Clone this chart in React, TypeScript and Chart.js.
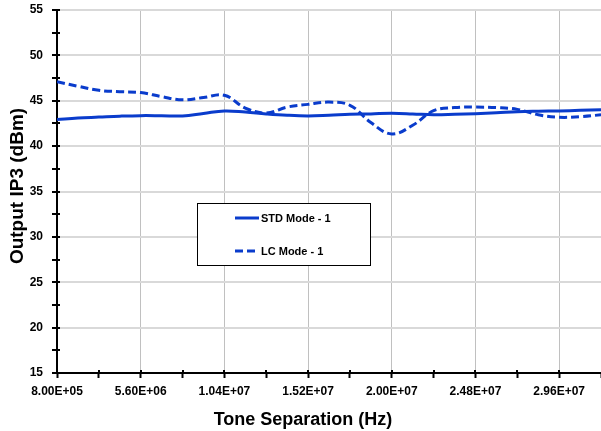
import React, { useEffect, useRef } from "react";
import { Chart, registerables } from "chart.js";

Chart.register(...registerables);

// ---- Data ----
const freqHz = [
  800000, 2000000, 3200000, 4400000, 5600000, 6800000, 8000000, 9200000, 10400000,
  11600000, 12800000, 14000000, 15200000, 16400000, 17600000, 18800000, 20000000,
  21200000, 22400000, 23600000, 24800000, 26000000, 27200000, 28400000, 29600000,
  30800000, 32000000,
];
const stdMode1 = [
  42.92, 43.1, 43.2, 43.3, 43.36, 43.35, 43.33, 43.6, 43.88, 43.75, 43.55, 43.4, 43.33,
  43.4, 43.5, 43.55, 43.62, 43.55, 43.45, 43.5, 43.58, 43.68, 43.8, 43.85, 43.88, 43.94, 44.0,
];
const lcMode1 = [
  47.1, 46.6, 46.15, 46.0, 45.9, 45.45, 45.1, 45.35, 45.6, 44.2, 43.65, 44.3, 44.6,
  44.85, 44.5, 42.6, 41.34, 42.3, 43.9, 44.25, 44.3, 44.25, 44.05, 43.45, 43.18, 43.25, 43.45,
];
const seriesLabels = ["STD Mode - 1", "LC Mode - 1"];
const xMajorTicks = [800000, 5600000, 10400000, 15200000, 20000000, 24800000, 29600000];
const xMinorTicks = [3200000, 8000000, 12800000, 17600000, 22400000, 27200000, 32000000];
const yMajorTicks = [15, 20, 25, 30, 35, 40, 45, 50, 55];
const yMinorTicks = [17.5, 22.5, 27.5, 32.5, 37.5, 42.5, 47.5, 52.5];
const xTitle = "Tone Separation (Hz)";
const yTitle = "Output IP3 (dBm)";

const X_MIN = 800000;
const X_MAX = 32000000;
const Y_MIN = 15;
const Y_MAX = 55;

const LINE_COLOR = "#0a3ccc";
const FONT = "'Liberation Sans', Arial, sans-serif";

function fmtSci(v: number): string {
  const exp = Math.floor(Math.log10(v) + 1e-9);
  const mant = v / Math.pow(10, exp);
  return `${mant.toFixed(2)}E+${String(exp).padStart(2, "0")}`;
}

const xMajorSet = new Set(xMajorTicks);
const yMajorSet = new Set(yMajorTicks);

const decorPlugin = {
  id: "decor",
  afterDraw(chart: any) {
    const { ctx, chartArea } = chart;
    const xs = chart.scales.x;
    const ys = chart.scales.y;
    ctx.save();
    // inner parts of tick marks (crossing the axes)
    ctx.strokeStyle = "#000";
    ctx.lineWidth = 2;
    [...xMajorTicks, ...xMinorTicks].forEach((v) => {
      const px = Math.round(xs.getPixelForValue(v));
      if (px > chartArea.right - 1) return;
      ctx.beginPath();
      ctx.moveTo(px, chartArea.bottom);
      ctx.lineTo(px, chartArea.bottom - 3);
      ctx.stroke();
    });
    [...yMajorTicks, ...yMinorTicks].forEach((v) => {
      const py = Math.round(ys.getPixelForValue(v));
      ctx.beginPath();
      ctx.moveTo(chartArea.left, py);
      ctx.lineTo(chartArea.left + 3, py);
      ctx.stroke();
    });

    // legend box
    const bx = chartArea.left + 140;
    const by = chartArea.top + 193;
    const bw = 173;
    const bh = 62;
    ctx.fillStyle = "#fff";
    ctx.fillRect(bx, by, bw, bh);
    ctx.strokeStyle = "#000";
    ctx.lineWidth = 1;
    ctx.strokeRect(bx + 0.5, by + 0.5, bw, bh);
    const rows = [by + 15, by + 48];
    chart.data.datasets.forEach((ds: any, i: number) => {
      const yy = rows[i];
      ctx.strokeStyle = ds.borderColor;
      ctx.lineWidth = 3;
      ctx.setLineDash(ds.borderDash || []);
      ctx.beginPath();
      ctx.moveTo(bx + 38, yy);
      ctx.lineTo(bx + 62, yy);
      ctx.stroke();
      ctx.setLineDash([]);
      ctx.fillStyle = "#000";
      ctx.font = `bold 11px ${FONT}`;
      ctx.textAlign = "left";
      ctx.textBaseline = "middle";
      ctx.fillText(ds.label, bx + 64, yy + 0.5);
    });

    // axis titles
    ctx.fillStyle = "#000";
    ctx.font = `bold 18px ${FONT}`;
    ctx.textAlign = "center";
    ctx.textBaseline = "alphabetic";
    ctx.fillText(xTitle, chartArea.left + 246, chart.height - 6);

    ctx.save();
    ctx.translate(17.5, chartArea.top + 176);
    ctx.rotate(-Math.PI / 2);
    ctx.font = `bold 19px ${FONT}`;
    ctx.textAlign = "center";
    ctx.textBaseline = "middle";
    ctx.fillText(yTitle, 0, 0);
    ctx.restore();

    ctx.restore();
  },
};

export default function App() {
  const canvasRef = useRef<HTMLCanvasElement | null>(null);

  useEffect(() => {
    document.body.style.margin = "0";
    const canvas = canvasRef.current;
    if (!canvas) return;
    const allX = [...xMajorTicks, ...xMinorTicks].sort((a, b) => a - b);
    const allY = [...yMajorTicks, ...yMinorTicks].sort((a, b) => a - b);

    const chart = new Chart(canvas, {
      type: "line",
      data: {
        datasets: [
          {
            label: seriesLabels[0],
            data: freqHz.map((x, i) => ({ x, y: stdMode1[i] })),
            borderColor: LINE_COLOR,
            borderWidth: 3,
            pointRadius: 0,
            tension: 0.4,
            fill: false,
          },
          {
            label: seriesLabels[1],
            data: freqHz.map((x, i) => ({ x, y: lcMode1[i] })),
            borderColor: LINE_COLOR,
            borderWidth: 3,
            borderDash: [8, 4],
            pointRadius: 0,
            tension: 0.4,
            fill: false,
          },
        ],
      },
      options: {
        animation: false,
        responsive: false,
        devicePixelRatio: 1,
        layout: { padding: { top: 10, left: 0, right: 0, bottom: 0 } },
        plugins: {
          legend: { display: false },
          tooltip: { enabled: false },
        },
        scales: {
          x: {
            type: "linear",
            min: X_MIN,
            max: X_MAX,
            afterFit: (scale: any) => {
              scale.height = 58;
              scale.paddingLeft = 0;
              scale.paddingRight = 0;
            },
            afterBuildTicks: (scale: any) => {
              scale.ticks = allX.map((v) => ({ value: v }));
            },
            ticks: {
              autoSkip: false,
              maxRotation: 0,
              minRotation: 0,
              padding: 6,
              color: "#000",
              font: { family: FONT, size: 12, weight: "bold" },
              callback: (value: any) => (xMajorSet.has(value) ? fmtSci(value) : ""),
            },
            grid: {
              color: (ctx: any) => {
                const v = ctx.tick && ctx.tick.value;
                return xMajorSet.has(v) && v !== X_MIN ? "#c0c0c0" : "rgba(0,0,0,0)";
              },
              lineWidth: 1,
              drawTicks: true,
              tickLength: 5,
              tickColor: "#000",
              tickWidth: 2,
            },
            border: { display: true, color: "#000", width: 2 },
          },
          y: {
            type: "linear",
            min: Y_MIN,
            max: Y_MAX,
            afterFit: (scale: any) => {
              scale.width = 57;
              scale.paddingTop = 0;
              scale.paddingBottom = 0;
            },
            afterBuildTicks: (scale: any) => {
              scale.ticks = allY.map((v) => ({ value: v }));
            },
            ticks: {
              autoSkip: false,
              padding: 9,
              color: "#000",
              font: { family: FONT, size: 12, weight: "bold" },
              callback: (value: any) => (yMajorSet.has(value) ? String(value) : ""),
            },
            grid: {
              color: (ctx: any) => {
                const v = ctx.tick && ctx.tick.value;
                return yMajorSet.has(v) && v !== Y_MIN ? "#d9d9d9" : "rgba(0,0,0,0)";
              },
              lineWidth: 2,
              drawTicks: true,
              tickLength: 5,
              tickColor: "#000",
              tickWidth: 2,
            },
            border: { display: true, color: "#000", width: 2 },
          },
        },
      },
      plugins: [decorPlugin],
    } as any);

    return () => {
      chart.destroy();
    };
  }, []);

  return (
    <div style={{ width: 601, height: 431, position: "relative" }}>
      <canvas ref={canvasRef} width={601} height={431} style={{ display: "block" }} />
    </div>
  );
}
